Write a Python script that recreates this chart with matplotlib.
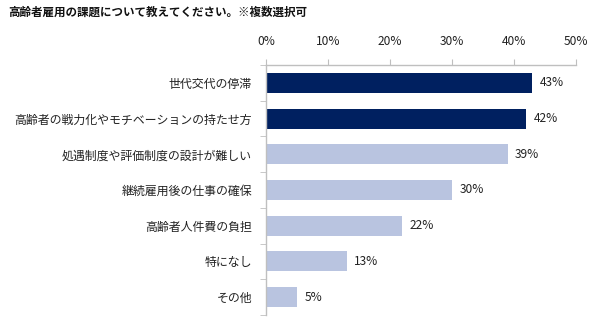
import matplotlib
matplotlib.use("Agg")
import matplotlib.pyplot as plt
import numpy as np

plt.rcParams['font.family'] = ['Noto Sans CJK JP', 'DejaVu Sans']

title = "高齢者雇用の課題について教えてください。※複数選択可"
categories = ["世代交代の停滞", "高齢者の戦力化やモチベーションの持たせ方", "処遇制度や評価制度の設計が難しい",
              "継続雇用後の仕事の確保", "高齢者人件費の負担", "特になし", "その他"]
values = [43, 42, 39, 30, 22, 13, 5]
highlight = [True, True, False, False, False, False, False]
xticks = [0, 10, 20, 30, 40, 50]

dark = "#002060"
light = "#B9C4E0"
grid = "#BFBFBF"

fig = plt.figure(figsize=(6.10, 3.29), dpi=100)
ax = fig.add_axes([0.436, 0.043, 0.508, 0.759])

n = len(categories)
y = np.arange(n)
colors = [dark if h else light for h in highlight]
ax.barh(y, values, height=0.56, color=colors, zorder=2)
for yi, v in zip(y, values):
    ax.text(v + 1.2, yi, f"{v}%", va="center", ha="left", fontsize=8.6, color="#222222")

ax.set_xlim(0, 50)
ax.set_ylim(n - 0.5, -0.5)
ax.xaxis.tick_top()
ax.set_xticks(xticks)
ax.set_xticklabels([f"{t}%" for t in xticks], fontsize=8.6, color="#222222")
ax.tick_params(axis="x", length=4, color=grid, pad=8)

ax.set_yticks(y)
ax.set_yticklabels(categories, fontsize=8.6, color="#222222")
ax.set_yticks(np.arange(n + 1) - 0.5, minor=True)
ax.tick_params(axis="y", which="major", length=0, pad=10)
ax.tick_params(axis="y", which="minor", length=4, color=grid)

for s in ["right", "bottom"]:
    ax.spines[s].set_visible(False)
for s in ["left", "top"]:
    ax.spines[s].set_color(grid)
    ax.spines[s].set_linewidth(1.0)

fig.text(0.013, 0.962, title, fontsize=8.3, fontweight="bold", ha="left", va="center", color="#111111")

fig.savefig("out.png", dpi=100)
